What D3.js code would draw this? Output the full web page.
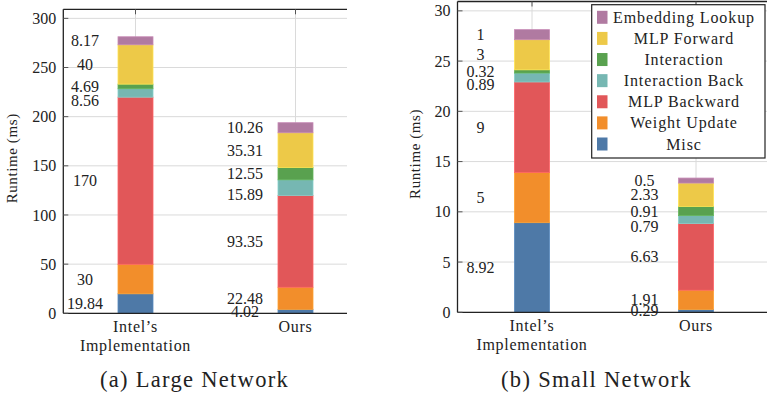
<!DOCTYPE html>
<html>
<head>
<meta charset="utf-8">
<script src="https://cdn.jsdelivr.net/npm/d3@7"></script>
<style>
  html, body { margin: 0; padding: 0; background: #fff; }
  svg { display: block; }
  svg text { font-family: "Liberation Serif", "DejaVu Serif", "Noto Serif", "Times New Roman", Times, serif !important; fill: #222; }
</style>
</head>
<body>
<svg id="chart" width="767" height="393" font-family="Liberation Serif, DejaVu Serif, serif"></svg>
<script>
// Runtime breakdown per stage, stacked bottom-to-top in this order
const stages = ["Misc", "Weight Update", "MLP Backward", "Interaction Back", "Interaction", "MLP Forward", "Embedding Lookup"];
const stageColors = ["#4e79a7", "#f28e2b", "#e15759", "#76b7b2", "#59a14f", "#edc948", "#b07aa1"];

const groups = ["Intel’s Implementation", "Ours"];
const groupLines = [["Intel’s", "Implementation"], ["Ours"]];

// Large network (ms)
const largeIntel = [19.84, 30, 170, 8.56, 4.69, 40, 8.17];
const largeOurs  = [4.02, 22.48, 93.35, 15.89, 12.55, 35.31, 10.26];
const largeTicks = [0, 50, 100, 150, 200, 250, 300];

// Small network (ms)
const smallIntel = [8.92, 5, 9, 0.89, 0.32, 3, 1];
const smallOurs  = [0.29, 1.91, 6.63, 0.79, 0.91, 2.33, 0.5];
const smallTicks = [0, 5, 10, 15, 20, 25, 30];

const captions = ["(a) Large Network", "(b) Small Network"];

// label nudges (px) per stage, keeps the thin interaction labels apart
const labelNudge = [0, 0, 0, 7, 0, 0, 0];

const FONT = "Liberation Serif, DejaVu Serif, serif";
const svg = d3.select("#chart");
const gridColor = "#dadada";
const axisColor = "#222";

function panel(cfg) {
  const g = svg.append("g");
  const y = d3.scaleLinear().domain([0, cfg.yMax]).range([cfg.bottom, cfg.top]);
  const x = d3.scalePoint().domain(groups).range(cfg.centers);

  // horizontal grid
  g.append("g").selectAll("line").data(cfg.ticks).join("line")
    .attr("x1", cfg.left).attr("x2", cfg.right)
    .attr("y1", d => y(d)).attr("y2", d => y(d))
    .attr("stroke", gridColor).attr("stroke-width", 1);
  // vertical grid at categories
  g.append("g").selectAll("line").data(groups).join("line")
    .attr("x1", d => x(d)).attr("x2", d => x(d))
    .attr("y1", cfg.top).attr("y2", cfg.bottom)
    .attr("stroke", gridColor).attr("stroke-width", 1);

  // stacked bars with value labels to their left
  const bw = cfg.barWidth;
  const stacks = [cfg.intel, cfg.ours];
  groups.forEach((grp, gi) => {
    const vals = stacks[gi];
    let acc = 0;
    vals.forEach((v, si) => {
      const y0 = acc, y1 = acc + v;
      acc = y1;
      g.append("rect")
        .attr("x", x(grp) - bw / 2)
        .attr("width", bw)
        .attr("y", y(y1))
        .attr("height", y(y0) - y(y1))
        .attr("fill", stageColors[si])
        .attr("stroke", d3.color(stageColors[si]).brighter(0.35))
        .attr("stroke-width", 0.8);
      g.append("text")
        .attr("x", x(grp) - cfg.labelOffset)
        .attr("y", y((y0 + y1) / 2) + labelNudge[si])
        .attr("dy", "0.35em")
        .attr("text-anchor", "middle")
        .attr("font-family", FONT)
        .attr("font-size", 16)
        .text(String(v));
    });
  });

  // frame: left axis, bottom axis, top line
  g.append("line").attr("x1", cfg.left).attr("x2", cfg.right)
    .attr("y1", cfg.bottom).attr("y2", cfg.bottom)
    .attr("stroke", axisColor).attr("stroke-width", 1.3);
  g.append("line").attr("x1", cfg.left).attr("x2", cfg.right)
    .attr("y1", cfg.top).attr("y2", cfg.top)
    .attr("stroke", axisColor).attr("stroke-width", 1.3);
  g.append("line").attr("x1", cfg.left).attr("x2", cfg.left)
    .attr("y1", cfg.top).attr("y2", cfg.bottom)
    .attr("stroke", axisColor).attr("stroke-width", 1.3);

  // inward tick marks
  g.append("g").selectAll("line").data(cfg.ticks).join("line")
    .attr("x1", cfg.left).attr("x2", cfg.left + 5)
    .attr("y1", d => y(d)).attr("y2", d => y(d))
    .attr("stroke", "#555").attr("stroke-width", 1);
  g.append("g").selectAll("line").data(groups).join("line")
    .attr("x1", d => x(d)).attr("x2", d => x(d))
    .attr("y1", cfg.top).attr("y2", cfg.top + 5)
    .attr("stroke", "#555").attr("stroke-width", 1);

  // y axis labels
  const yAxis = d3.axisLeft(y).tickValues(cfg.ticks).tickSize(0).tickPadding(7);
  const ya = g.append("g").attr("transform", `translate(${cfg.left},0)`).call(yAxis)
    .attr("font-family", FONT).attr("font-size", 16);
  ya.select(".domain").remove();
  ya.selectAll("text").attr("font-size", 16).attr("font-family", FONT).attr("fill", "#222");

  // x category labels
  groups.forEach((grp, gi) => {
    const t = g.append("text")
      .attr("x", x(grp)).attr("y", cfg.bottom + 19)
      .attr("text-anchor", "middle").attr("font-size", 16)
      .attr("font-family", FONT)
      .attr("letter-spacing", 0.7);
    groupLines[gi].forEach((ln, li) => {
      t.append("tspan").attr("x", x(grp)).attr("dy", li === 0 ? 0 : 19).text(ln);
    });
  });

  // y title
  g.append("text")
    .attr("transform", `translate(${cfg.titleX},${(cfg.top + cfg.bottom) / 2 - 3}) rotate(-90)`)
    .attr("text-anchor", "middle").attr("dy", "0.35em")
    .attr("font-family", FONT)
    .attr("font-size", 15).attr("letter-spacing", 0.6)
    .text("Runtime (ms)");

  // caption
  g.append("text")
    .attr("x", cfg.captionX).attr("y", 387)
    .attr("text-anchor", "middle").attr("font-size", 22.5)
    .attr("font-family", FONT)
    .attr("letter-spacing", 1.3)
    .text(cfg.caption);
}

panel({
  left: 63.3, right: 347, top: 9.3, bottom: 313.3, yMax: 309.2,
  centers: [135.5, 295.5], barWidth: 35, labelOffset: 50.5,
  ticks: largeTicks, intel: largeIntel, ours: largeOurs,
  titleX: 12, captionX: 194.5, caption: captions[0]
});

panel({
  left: 457.5, right: 767, top: 1.5, bottom: 312.3, yMax: 30.93,
  centers: [532, 696], barWidth: 35, labelOffset: 51.5,
  ticks: smallTicks, intel: smallIntel, ours: smallOurs,
  titleX: 415, captionX: 596.5, caption: captions[1]
});

// legend for the stage colours, top entry first
const legend = svg.append("g");
legend.append("rect")
  .attr("x", 591.7).attr("y", 4.7).attr("width", 173.3).attr("height", 153.3)
  .attr("fill", "#fff").attr("stroke", axisColor).attr("stroke-width", 1.2);
const legendOrder = d3.range(stages.length).reverse();
const ly = d3.scalePoint().domain(legendOrder).range([17.3, 144]);
legendOrder.forEach(si => {
  legend.append("rect")
    .attr("x", 597).attr("y", ly(si) - 6.5).attr("width", 10.5).attr("height", 13)
    .attr("fill", stageColors[si]);
  legend.append("text")
    .attr("x", 684).attr("y", ly(si)).attr("dy", "0.35em")
    .attr("text-anchor", "middle").attr("font-size", 16).attr("letter-spacing", 0.9)
    .attr("font-family", FONT)
    .text(stages[si]);
});
</script>
</body>
</html>
